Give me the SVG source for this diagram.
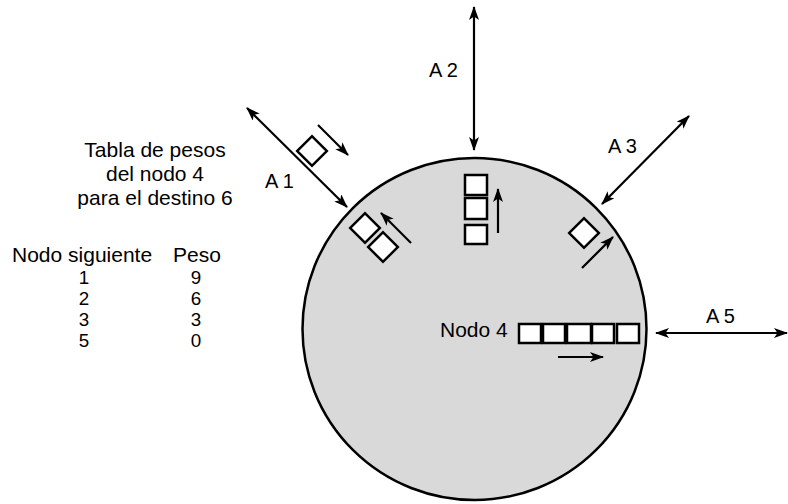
<svg xmlns="http://www.w3.org/2000/svg" width="788" height="504" viewBox="0 0 788 504">
<style>
text{font-family:"Liberation Sans",Arial,sans-serif;font-size:20px;fill:#000}
text.t{font-size:21px}
text.d{font-size:18.8px;text-anchor:middle}
.ln{stroke:#000;stroke-width:2.2;fill:none}
.bx{fill:#fff;stroke:#000;stroke-width:2.5}
</style>
<defs>
<marker id="ah" viewBox="0 0 14 10" refX="13" refY="5" markerWidth="14" markerHeight="10" markerUnits="userSpaceOnUse" orient="auto-start-reverse">
<path d="M0,0 L14,5 L0,10 L3.5,5 z" fill="#000"/>
</marker>
</defs>
<rect width="788" height="504" fill="#fff"/>
<g id="nodo4">
<ellipse cx="474.5" cy="329" rx="172" ry="171" fill="#d9d9d9" stroke="#000" stroke-width="2.5"/>
<text class="t" x="440" y="337">Nodo 4</text>
<rect class="bx" x="519" y="324" width="22" height="19"/>
<rect class="bx" x="543" y="324" width="22" height="19"/>
<rect class="bx" x="567" y="324" width="24" height="19"/>
<rect class="bx" x="592" y="324" width="22" height="19"/>
<rect class="bx" x="617" y="324" width="22" height="19"/>
<rect class="bx" x="465" y="175" width="22" height="20"/>
<rect class="bx" x="465" y="198" width="22" height="21"/>
<rect class="bx" x="465" y="225" width="22" height="19"/>
<rect class="bx" x="-10.5" y="-10.5" width="21" height="21" transform="translate(365,228) rotate(45)"/>
<rect class="bx" x="-10.5" y="-10.5" width="21" height="21" transform="translate(383,247) rotate(45)"/>
<rect class="bx" x="-10.5" y="-10.5" width="21" height="21" transform="translate(584,233) rotate(45)"/>
</g>
<g id="paquete-a1">
<rect class="bx" x="-10.5" y="-10.5" width="21" height="21" transform="translate(312,151) rotate(45)"/>
</g>
<g id="connectors">
<line class="ln" x1="247" y1="108" x2="347" y2="207" marker-start="url(#ah)" marker-end="url(#ah)"/>
<line class="ln" x1="474" y1="7" x2="474" y2="150" marker-start="url(#ah)" marker-end="url(#ah)"/>
<line class="ln" x1="689" y1="116" x2="602" y2="204" marker-start="url(#ah)" marker-end="url(#ah)"/>
<line class="ln" x1="656" y1="333" x2="787" y2="333" marker-start="url(#ah)" marker-end="url(#ah)"/>
<line class="ln" x1="318" y1="125" x2="348" y2="155" marker-end="url(#ah)"/>
<line class="ln" x1="411" y1="243" x2="381" y2="213" marker-end="url(#ah)"/>
<line class="ln" x1="498" y1="233" x2="498" y2="189" marker-end="url(#ah)"/>
<line class="ln" x1="582" y1="268" x2="613" y2="237" marker-end="url(#ah)"/>
<line class="ln" x1="558" y1="357" x2="603" y2="357" marker-end="url(#ah)"/>
</g>
<g id="labels">
<text x="265" y="188">A 1</text>
<text x="429" y="77">A 2</text>
<text x="608" y="153">A 3</text>
<text x="706" y="323">A 5</text>
</g>
<g id="tabla">
<text class="t" x="155" y="157" text-anchor="middle">Tabla de pesos</text>
<text class="t" x="155" y="181" text-anchor="middle">del nodo 4</text>
<text class="t" x="155" y="205" text-anchor="middle">para el destino 6</text>
<text class="t" x="12" y="262">Nodo siguiente</text>
<text class="t" x="173" y="262">Peso</text>
<text class="d" x="84" y="283.5">1</text>
<text class="d" x="84" y="304.6">2</text>
<text class="d" x="84" y="325.7">3</text>
<text class="d" x="84" y="346.8">5</text>
<text class="d" x="196" y="283.5">9</text>
<text class="d" x="196" y="304.6">6</text>
<text class="d" x="196" y="325.7">3</text>
<text class="d" x="196" y="346.8">0</text>
</g>
</svg>
